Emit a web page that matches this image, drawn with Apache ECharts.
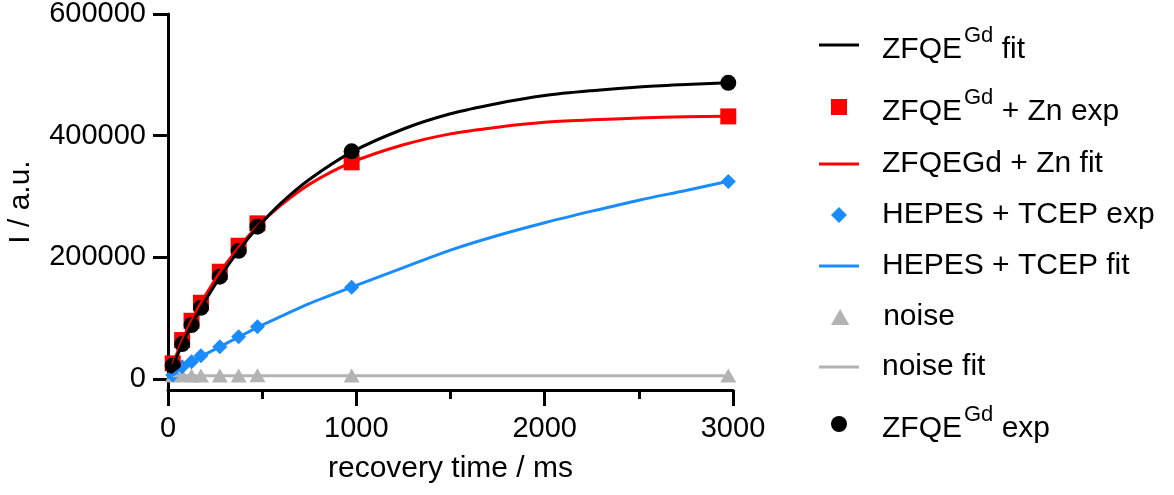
<!DOCTYPE html>
<html>
<head>
<meta charset="utf-8">
<title>recovery</title>
<script src="https://cdn.jsdelivr.net/npm/echarts@6/dist/echarts.min.js"></script>
<style>
    html, body {margin: 0; padding: 0; background: #fff;}
    #chart {width: 1174px; height: 495px;}
</style>
</head>
<body>
<div id="chart"></div>
<script>
    // 实验点 (ms)
    var xExp = [25, 75, 125, 175, 275, 375, 475, 975, 2975];
    var zfqeExp = [21900, 57500, 88800, 117200, 168200, 210900, 250400, 374300, 486900];
    var znExp = [25800, 64100, 95800, 125400, 176400, 219100, 255900, 356200, 431700];
    var hepesExp = [6600, 20200, 28400, 38300, 53100, 69500, 86000, 150900, 324700];
    var noiseExp = [6000, 6100, 5900, 6000, 6000, 5900, 6100, 6000, 6000];

    // 拟合曲线
    var xFit = [25, 75, 125, 175, 275, 375, 475, 600, 750, 975, 1250, 1500, 1750, 2000, 2250, 2500, 2750, 2975];
    var zfqeFit = [20000, 57000, 89000, 117000, 167000, 211000, 249000, 289000, 328000, 373000, 411000, 436000, 453000, 466000, 474000, 480000, 484000, 487000];
    var znFit = [24000, 63000, 96000, 125000, 175000, 216000, 251000, 286000, 320000, 356000, 385000, 403000, 414000, 422000, 426000, 429000, 431000, 432000];
    var hepesFit = [6000, 18000, 28000, 37000, 53000, 69000, 85000, 103000, 124000, 151000, 183000, 212000, 236000, 257000, 276000, 294000, 310000, 325000];
    var xNoiseFit = [25, 2975];
    var noiseFit = [5500, 5500];

    var xTicks = [0, 1000, 2000, 3000];
    var yTicks = [0, 200000, 400000, 600000];

    var font = 'Liberation Sans, Arial, sans-serif';

    function pairs(xs, ys) {
        var out = [];
        for (var i = 0; i < xs.length; i++) {
            out.push([xs[i], ys[i]]);
        }
        return out;
    }

    //图例文字, Gd 上标
    function legendText(name) {
        if (name.indexOf('ZFQEGd ') === 0 && name !== 'ZFQEGd + Zn fit') {
            return '{p|ZFQE}{s|Gd}{a|' + name.substring(6) + '}';
        }
        return '{p|' + name + '}';
    }

    var richText = {
        p: {fontSize: 30, lineHeight: 30, fontFamily: font, color: '#000', padding: [0, 0, 0, 18], verticalAlign: 'bottom'},
        a: {fontSize: 30, lineHeight: 30, fontFamily: font, color: '#000', verticalAlign: 'bottom'},
        s: {fontSize: 22, lineHeight: 40, fontFamily: font, color: '#000', padding: [0, 0, 0, 2], verticalAlign: 'top'}
    };

    function legendItem(name, icon, left, top) {
        return {
            left: left,
            top: top,
            orient: 'vertical',
            padding: 0,
            itemWidth: 40,
            itemHeight: 16,
            selectedMode: false,
            formatter: legendText,
            textStyle: {rich: richText},
            data: [{name: name, icon: icon}]
        };
    }

    var lineIcon = 'path://M0,0L40,0L40,3L0,3Z';

    var option = {
        animation: false,
        backgroundColor: '#fff',
        grid: {left: 168, right: 441, top: 14, bottom: 105, outerBoundsMode: 'none'},
        legend: [
            legendItem('ZFQEGd fit', lineIcon, 819, 25),
            legendItem('ZFQEGd + Zn exp', 'path://M0,0L16,0L16,16L0,16Z', 831, 87),
            legendItem('ZFQEGd + Zn fit', lineIcon, 819, 149),
            legendItem('HEPES + TCEP exp', 'path://M8,0L16,8L8,16L0,8Z', 831, 200),
            legendItem('HEPES + TCEP fit', lineIcon, 819, 251),
            legendItem('noise', 'path://M8,0L16,14L0,14Z', 831, 302),
            legendItem('noise fit', lineIcon, 819, 352),
            legendItem('ZFQEGd exp', 'circle', 831, 404)
        ],
        xAxis: {
            type: 'value',
            min: 0,
            max: 3000,
            interval: 1000,
            name: 'recovery time / ms',
            nameLocation: 'middle',
            nameGap: 64,
            nameTextStyle: {fontSize: 30, fontFamily: font, color: '#000'},
            axisLine: {onZero: false, lineStyle: {color: '#000', width: 3}},
            axisTick: {length: 16, lineStyle: {color: '#000', width: 3}},
            minorTick: {show: true, splitNumber: 2, length: 9, lineStyle: {color: '#000', width: 3}},
            axisLabel: {
                margin: 24, fontSize: 29, fontFamily: font, color: '#000',
                customValues: xTicks,
                formatter: function (v) { return String(v); }
            },
            splitLine: {show: false}
        },
        yAxis: {
            type: 'value',
            min: -18000,
            max: 600000,
            name: 'I / a.u.',
            nameLocation: 'middle',
            nameGap: 132,
            nameTextStyle: {fontSize: 30, fontFamily: font, color: '#000'},
            axisLine: {lineStyle: {color: '#000', width: 3}},
            axisTick: {length: 15, lineStyle: {color: '#000', width: 3}, customValues: yTicks},
            axisLabel: {
                margin: 22, fontSize: 29, fontFamily: font, color: '#000',
                customValues: yTicks,
                formatter: function (v) { return String(v); }
            },
            splitLine: {show: false}
        },
        series: [
            {
                name: 'noise fit', type: 'line', color: '#b3b3b3', symbol: 'none',
                lineStyle: {width: 3}, data: pairs(xNoiseFit, noiseFit)
            },
            {
                name: 'noise', type: 'scatter', color: '#b3b3b3', symbol: 'triangle', symbolSize: [16, 14],
                itemStyle: {opacity: 1}, data: pairs(xExp, noiseExp)
            },
            {
                name: 'HEPES + TCEP fit', type: 'line', color: '#1a8cff', symbol: 'none', smooth: 0.3,
                lineStyle: {width: 3}, data: pairs(xFit, hepesFit)
            },
            {
                name: 'HEPES + TCEP exp', type: 'scatter', color: '#1a8cff', symbol: 'diamond', symbolSize: 15,
                itemStyle: {opacity: 1}, data: pairs(xExp, hepesExp)
            },
            {
                name: 'ZFQEGd + Zn fit', type: 'line', color: '#ff0000', symbol: 'none', smooth: 0.3,
                lineStyle: {width: 3}, data: pairs(xFit, znFit)
            },
            {
                name: 'ZFQEGd + Zn exp', type: 'scatter', color: '#ff0000', symbol: 'rect', symbolSize: 16,
                itemStyle: {opacity: 1}, data: pairs(xExp, znExp)
            },
            {
                name: 'ZFQEGd fit', type: 'line', color: '#000000', symbol: 'none', smooth: 0.3,
                lineStyle: {width: 3}, data: pairs(xFit, zfqeFit)
            },
            {
                name: 'ZFQEGd exp', type: 'scatter', color: '#000000', symbol: 'circle', symbolSize: 16,
                itemStyle: {opacity: 1}, data: pairs(xExp, zfqeExp)
            }
        ]
    };

    var myChart = echarts.init(document.getElementById('chart'));
    myChart.setOption(option);
</script>
</body>
</html>
